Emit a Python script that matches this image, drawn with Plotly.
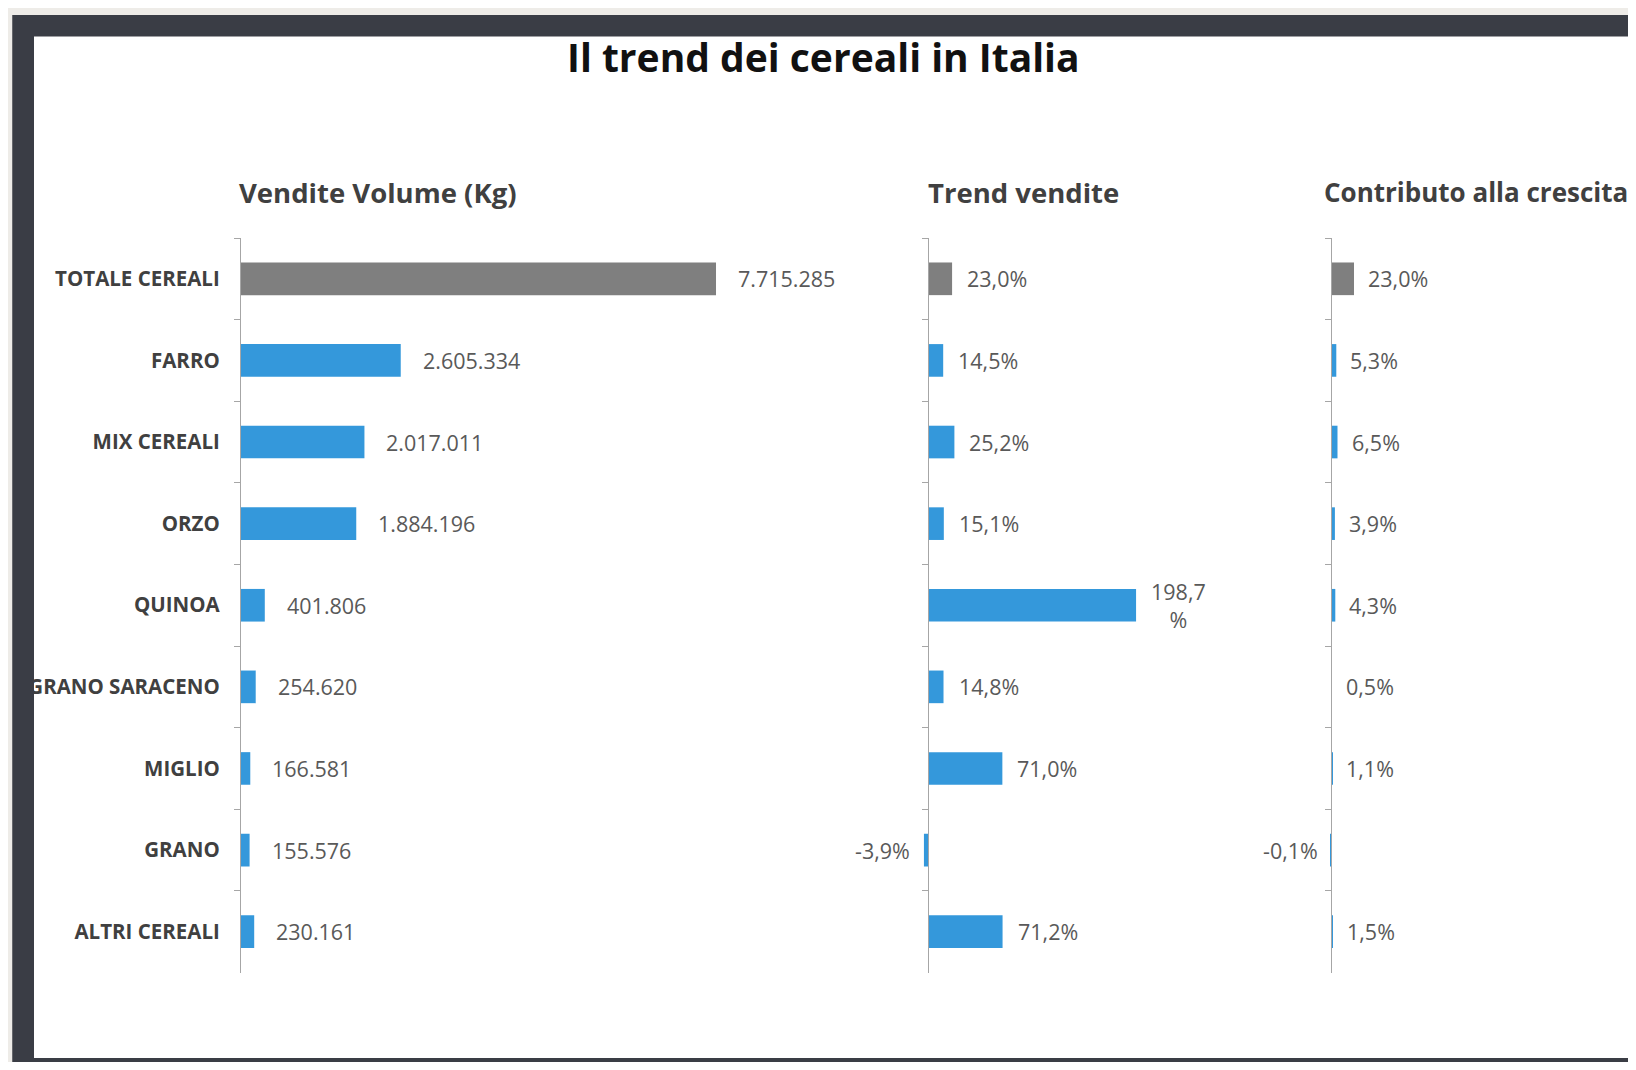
import plotly.graph_objects as go

# ---------------- data ----------------
chart_title = "Il trend dei cereali in Italia"
panel_titles = ["Vendite Volume (Kg)", "Trend vendite", "Contributo alla crescita"]
categories = ["TOTALE CEREALI", "FARRO", "MIX CEREALI", "ORZO", "QUINOA",
              "GRANO SARACENO", "MIGLIO", "GRANO", "ALTRI CEREALI"]
volume_kg = [7715285, 2605334, 2017011, 1884196, 401806, 254620, 166581, 155576, 230161]
trend_pct = [23.0, 14.5, 25.2, 15.1, 198.7, 14.8, 71.0, -3.9, 71.2]
contrib_pct = [23.0, 5.3, 6.5, 3.9, 4.3, 0.5, 1.1, -0.1, 1.5]

# ---------------- styling ----------------
OFF = 8                      # page body margin around the figure
W, H = 1636 - 2 * OFF, 1070 - 2 * OFF   # fits the window without scrollbars
FONT = "Open Sans"
GREY = "#7f7f7f"
BLUE = "#3498db"
FRAME = "#3a3d45"
AXIS = "#a6a6a6"
LABEL = "#404040"
VALUE = "#595959"


def px(x):
    """screen x (px) -> paper fraction"""
    return (x - OFF) / W


def py(y):
    """screen y (px from top) -> paper fraction"""
    return 1 - (y - OFF) / H


def fmt_kg(v):
    return f"{v:,}".replace(",", ".")


def fmt_pct(v):
    s = f"{v:.1f}".replace(".", ",")
    return s + ("<br>%" if v >= 100 else "%")


colors = [GREY if c == "TOTALE CEREALI" else BLUE for c in categories]

panels = [
    dict(vals=volume_kg, fmt=fmt_kg, x0=240, x1=840, rng=[0, 9725000], gap=20,
         title_x=237, title_size=27.5),
    dict(vals=trend_pct, fmt=fmt_pct, x0=900, x1=1250, rng=[-26.75, 307.5], gap=13,
         title_x=926, title_size=27.5),
    dict(vals=contrib_pct, fmt=fmt_pct, x0=1300, x1=1620, rng=[-31, 289], gap=12,
         title_x=1322, title_size=26),
]

ydom = [py(972.5), py(238)]
n = len(categories)

fig = go.Figure()
annotations = []
layout_axes = {}

for i, p in enumerate(panels):
    sfx = "" if i == 0 else str(i + 1)
    xa, ya = "x" + sfx, "y" + sfx
    fig.add_trace(go.Bar(
        y=categories, x=p["vals"], orientation="h",
        marker=dict(color=colors, line=dict(width=0)),
        xaxis=xa, yaxis=ya, hoverinfo="skip", showlegend=False,
    ))
    r0, r1 = p["rng"]
    zero_x = p["x0"] + (0 - r0) / (r1 - r0) * (p["x1"] - p["x0"])
    layout_axes["xaxis" + sfx] = dict(
        domain=[px(p["x0"]), px(p["x1"])], range=p["rng"], visible=False,
        anchor=ya, fixedrange=True,
    )
    layout_axes["yaxis" + sfx] = dict(
        domain=ydom, type="category", categoryorder="array", categoryarray=categories,
        range=[n - 0.5, -0.5], anchor="free", position=px(zero_x),
        showline=True, linecolor=AXIS, linewidth=1.3,
        ticks="outside", tickson="boundaries", ticklen=6, tickcolor=AXIS, tickwidth=1.3,
        showgrid=False, zeroline=False, showticklabels=(i == 0),
        tickfont=dict(family=FONT, size=20.5, color=LABEL, weight="bold"),
        ticklabelstandoff=16, fixedrange=True,
    )
    for v, c in zip(p["vals"], categories):
        neg = v < 0
        annotations.append(dict(
            xref=xa, yref=ya, x=v, y=c, text=p["fmt"](v), showarrow=False,
            xanchor="right" if neg else "left", yanchor="middle",
            xshift=-(p["gap"] - 1) if neg else p["gap"], align="center",
            font=dict(family=FONT, size=21.5, color=VALUE),
        ))
    annotations.append(dict(
        xref="paper", yref="paper", x=px(p["title_x"]), y=py(192), text=panel_titles[i],
        showarrow=False, xanchor="left", yanchor="middle",
        font=dict(family=FONT, size=p["title_size"], color=LABEL, weight="bold"),
    ))

annotations.append(dict(
    xref="paper", yref="paper", x=px(824), y=py(56.5), text=chart_title,
    showarrow=False, xanchor="center", yanchor="middle",
    font=dict(family=FONT, size=39, color="#111111", weight="bold"),
))

shapes = [
    dict(type="rect", xref="paper", yref="paper", x0=px(12.5), x1=1, y0=0, y1=py(15),
         fillcolor=FRAME, line=dict(width=0), layer="below"),
    dict(type="rect", xref="paper", yref="paper", x0=px(34), x1=1, y0=py(1058), y1=py(36.5),
         fillcolor="white", line=dict(width=0), layer="below"),
    dict(type="rect", xref="paper", yref="paper", x0=px(12.5), x1=px(34), y0=0, y1=py(15),
         fillcolor=FRAME, line=dict(width=0), layer="above"),
]

fig.update_layout(
    width=W, height=H, margin=dict(l=0, r=0, t=0, b=0),
    paper_bgcolor="#eeece8", plot_bgcolor="rgba(0,0,0,0)",
    bargap=0.6, showlegend=False, hovermode=False,
    annotations=annotations, shapes=shapes,
    **layout_axes,
)

fig.write_html("out.html")
